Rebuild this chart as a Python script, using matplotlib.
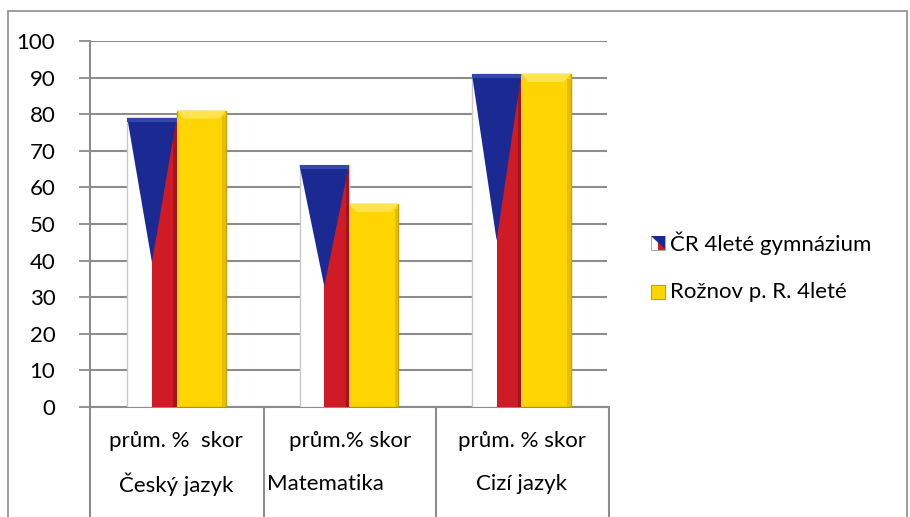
import matplotlib.pyplot as plt
from matplotlib.patches import Rectangle, Polygon

plt.rcParams['font.family'] = ['Lato', 'DejaVu Sans']
FS = 16

# data
subjects = ["Český jazyk", "Matematika", "Cizí jazyk"]
measures = ["prům. %  skor", "prům.% skor", "prům. % skor"]
cr_4lete = [79, 66, 91]
roznov_4lete = [81, 55.5, 91]
series_names = ["ČR 4leté gymnázium", "Rožnov p. R. 4leté"]
yticks = list(range(0, 101, 10))

BLUE, RED, WHITE = "#1b2a93", "#cf1b26", "#ffffff"
GOLD, GOLD_EDGE = "#ffd500", "#c9a200"
GRID = "#8c8c8c"

W, H = 910, 517
fig = plt.figure(figsize=(W / 100, H / 100), dpi=100)

# overlay in pixel coords for frame, category table and legend
ov = fig.add_axes([0, 0, 1, 1], zorder=0)
ov.set_xlim(0, W); ov.set_ylim(H, 0); ov.axis("off")
ov.add_patch(Rectangle((8, 11), 899, 520, fc="white", ec="#8c8c8c", lw=1.2))

# main plot area
x0, x1, ytop, ybot = 90, 607, 41, 407
ax = fig.add_axes([x0 / W, 1 - ybot / H, (x1 - x0) / W, (ybot - ytop) / H], zorder=2)
ax.set_facecolor("none")
ax.set_xlim(0, 3); ax.set_ylim(0, 100)
ax.set_yticks(yticks)
ax.tick_params(axis="y", length=8, width=1.3, color=GRID, labelsize=FS, pad=17)
ax.set_xticks([])
ax.yaxis.grid(True, color=GRID, lw=1.5)
ax.set_axisbelow(True)
for s in ["top", "right"]:
    ax.spines[s].set_visible(False)
ax.spines["left"].set_color(GRID); ax.spines["left"].set_linewidth(1.5)
ax.spines["bottom"].set_color(GRID); ax.spines["bottom"].set_linewidth(1.5)

w = 0.287
cx = [i + 0.5 for i in range(3)]
left_x = [c - w + 0.003 for c in cx]
right_x = [c + 0.003 for c in cx]

# Rožnov bars (gold, bevel look)
bars_r = ax.bar(right_x, roznov_4lete, width=w, align="edge", color=GOLD,
                edgecolor=GOLD_EDGE, lw=1.0, zorder=3)
for b in bars_r:
    bx, bw, bh = b.get_x(), b.get_width(), b.get_height()
    ax.add_patch(Polygon([(bx, bh), (bx + bw, bh), (bx + bw * 0.85, bh - 2.2),
                          (bx + bw * 0.15, bh - 2.2)], fc="#ffe44d", ec="none", zorder=4))
    ax.add_patch(Rectangle((bx + bw * 0.92, 0), bw * 0.08, bh - 1.5, fc="#e6bd00",
                           ec="none", zorder=4))

# ČR bars (Czech flag pattern)
bars_c = ax.bar(left_x, cr_4lete, width=w, align="edge", color=WHITE,
                edgecolor="#c8c8c8", lw=1.0, zorder=3)
for b in bars_c:
    bx, bw, bh = b.get_x(), b.get_width(), b.get_height()
    ax.add_patch(Rectangle((bx + bw / 2, 0), bw / 2, bh, fc=RED, ec="none", zorder=4))
    ax.add_patch(Rectangle((bx + bw * 0.93, 0), bw * 0.07, bh, fc="#a8121b",
                           ec="none", zorder=4))
    ax.add_patch(Polygon([(bx, bh), (bx + bw, bh), (bx + bw / 2, bh / 2)],
                         fc=BLUE, ec="none", zorder=5))
    ax.add_patch(Rectangle((bx, bh - 1.0), bw, 1.0, fc="#3447b0", ec="none", zorder=6))

# category table below axis
for xs in [90, 264, 436, 609]:
    ov.plot([xs, xs], [ybot, H + 5], color=GRID, lw=1.5, zorder=1)
label_x = [176, 350, 522]
for lx, m in zip(label_x, measures):
    ov.text(lx, 441, m, ha="center", va="center", fontsize=FS)
ov.text(176, 484, subjects[0], ha="center", va="center", fontsize=FS)
ov.text(267, 484, subjects[1], ha="left", va="center", fontsize=FS)
ov.text(522, 484, subjects[2], ha="center", va="center", fontsize=FS)

# legend
lg = fig.add_axes([0, 0, 1, 1], zorder=3)
lg.set_xlim(0, W); lg.set_ylim(H, 0); lg.axis("off")
mx, s = 651, 14
y1 = 243
lg.add_patch(Rectangle((mx, y1 - s / 2), s, s, fc=WHITE, ec="#999999", lw=0.6))
lg.add_patch(Rectangle((mx + s / 2, y1 - s / 2), s / 2, s, fc=RED, ec="none"))
lg.add_patch(Polygon([(mx, y1 - s / 2), (mx + s, y1 - s / 2), (mx + s, y1 + s / 2 - 1)],
                     fc=BLUE, ec="none"))
lg.text(mx + s + 5, y1, series_names[0], ha="left", va="center", fontsize=FS)
y2 = 292
lg.add_patch(Rectangle((mx, y2 - s / 2), s, s, fc=GOLD, ec=GOLD_EDGE, lw=0.8))
lg.text(mx + s + 5, y2, series_names[1], ha="left", va="center", fontsize=FS)

fig.savefig("out.png", dpi=100, facecolor="white")
